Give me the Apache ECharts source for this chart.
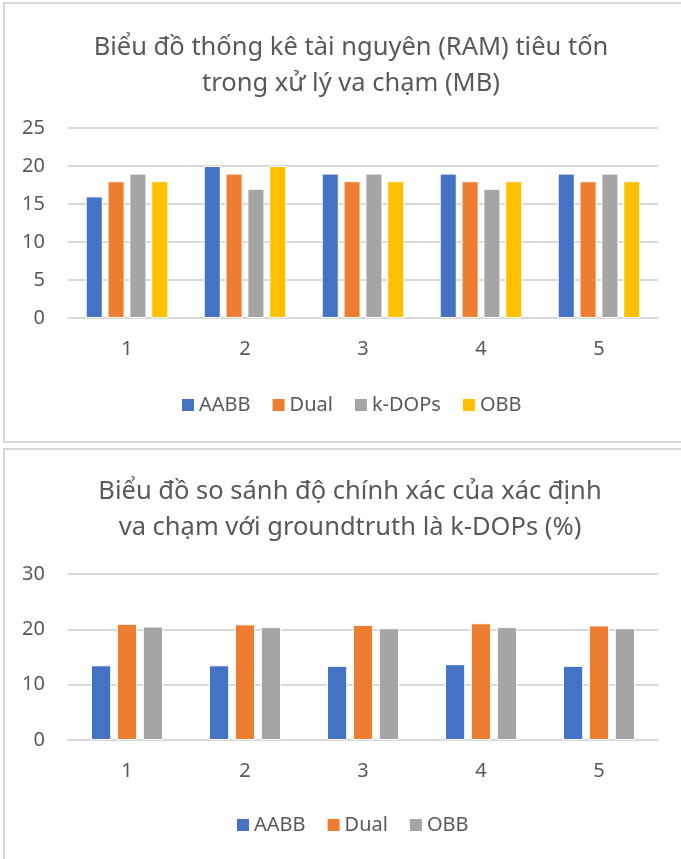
<!DOCTYPE html>
<html>
<head>
<meta charset="utf-8">
<script src="https://cdn.jsdelivr.net/npm/echarts@6/dist/echarts.min.js"></script>
<style>
html,body{margin:0;padding:0;background:#fff;}
#c{position:absolute;left:0;top:0;width:681px;height:859px;}
</style>
</head>
<body>
<div id="c"></div>
<script>
// Chart 1: RAM usage (MB)
const categories1 = ['1', '2', '3', '4', '5'];
const aabb1 = [16, 20, 19, 19, 19];
const dual1 = [18, 19, 18, 18, 18];
const kdops1 = [19, 17, 19, 17, 19];
const obb1 = [18, 20, 18, 18, 18];
const title1 = 'Biểu đồ thống kê tài nguyên (RAM) tiêu tốn\ntrong xử lý va chạm (MB)';

// Chart 2: accuracy vs groundtruth k-DOPs (%)
const categories2 = ['1', '2', '3', '4', '5'];
const aabb2 = [13.5, 13.5, 13.4, 13.7, 13.4];
const dual2 = [21.0, 20.9, 20.8, 21.1, 20.7];
const obb2 = [20.5, 20.4, 20.2, 20.4, 20.2];
const title2 = 'Biểu đồ so sánh độ chính xác của xác định\nva chạm với groundtruth là k-DOPs (%)';

const FONT = 'Noto Sans';
const TXT = '#595959';
const GRIDC = '#D9D9D9';
const C = ['#4472C4', '#ED7D31', '#A5A5A5', '#FFC000'];

const chart = echarts.init(document.getElementById('c'), null, {renderer: 'canvas'});

function bar(name, data, color, xi, cat) {
  return {
    name: name, type: 'bar', data: data, xAxisIndex: xi, yAxisIndex: xi,
    itemStyle: {color: color, borderColor: '#fff', borderWidth: 1},
    barGap: '28%', barCategoryGap: cat, animation: false,
    emphasis: {disabled: true}
  };
}

const axisLabel = {color: TXT, fontFamily: FONT, fontSize: 20};

chart.setOption({
  animation: false,
  textStyle: {fontFamily: FONT},
  graphic: [
    {type: 'rect', shape: {x: 4, y: 3, width: 700, height: 439}, style: {fill: 'none', stroke: GRIDC, lineWidth: 2}, silent: true},
    {type: 'rect', shape: {x: 4, y: 449, width: 700, height: 430}, style: {fill: 'none', stroke: GRIDC, lineWidth: 2}, silent: true}
  ],
  title: [
    {text: title1, left: 346, top: 25, textAlign: 'center',
     textStyle: {fontFamily: FONT, fontSize: 25.5, fontWeight: 'normal', color: TXT, lineHeight: 36}},
    {text: title2, left: 345, top: 469, textAlign: 'center',
     textStyle: {fontFamily: FONT, fontSize: 25.5, fontWeight: 'normal', color: TXT, lineHeight: 36}}
  ],
  legend: [
    {data: ['AABB', 'Dual', 'k-DOPs', 'OBB'], top: 390, left: 175, itemWidth: 14, itemHeight: 14, itemGap: 20,
     icon: 'rect', textStyle: {color: TXT, fontFamily: FONT, fontSize: 20, padding: [0, 0, 0, -1]}, selectedMode: false},
    {data: ['AABB ', 'Dual ', 'OBB '], top: 810, left: 230, itemWidth: 14, itemHeight: 14, itemGap: 20,
     icon: 'rect', textStyle: {color: TXT, fontFamily: FONT, fontSize: 20, padding: [0, 0, 0, -1]}, selectedMode: false,
     formatter: function (n) { return n.trim(); }}
  ],
  grid: [
    {left: 68, right: 23, top: 128, height: 190},
    {left: 68, right: 23, top: 574, height: 166}
  ],
  xAxis: [
    {type: 'category', data: categories1, gridIndex: 0, axisTick: {show: false},
     axisLine: {lineStyle: {color: GRIDC, width: 2}}, axisLabel: Object.assign({margin: 21}, axisLabel)},
    {type: 'category', data: categories2, gridIndex: 1, axisTick: {show: false},
     axisLine: {lineStyle: {color: GRIDC, width: 2}}, axisLabel: Object.assign({margin: 21}, axisLabel)}
  ],
  yAxis: [
    {type: 'value', gridIndex: 0, min: 0, max: 25, interval: 5,
     axisLabel: Object.assign({margin: 23}, axisLabel),
     splitLine: {lineStyle: {color: GRIDC, width: 2}}, axisLine: {show: false}, axisTick: {show: false}},
    {type: 'value', gridIndex: 1, min: 0, max: 30, interval: 10,
     axisLabel: Object.assign({margin: 23}, axisLabel),
     splitLine: {lineStyle: {color: GRIDC, width: 2}}, axisLine: {show: false}, axisTick: {show: false}}
  ],
  series: [
    bar('AABB', aabb1, C[0], 0, '30%'),
    bar('Dual', dual1, C[1], 0, '30%'),
    bar('k-DOPs', kdops1, C[2], 0, '30%'),
    bar('OBB', obb1, C[3], 0, '30%'),
    bar('AABB ', aabb2, C[0], 1, '39%'),
    bar('Dual ', dual2, C[1], 1, '39%'),
    bar('OBB ', obb2, C[2], 1, '39%')
  ]
});
</script>
</body>
</html>
